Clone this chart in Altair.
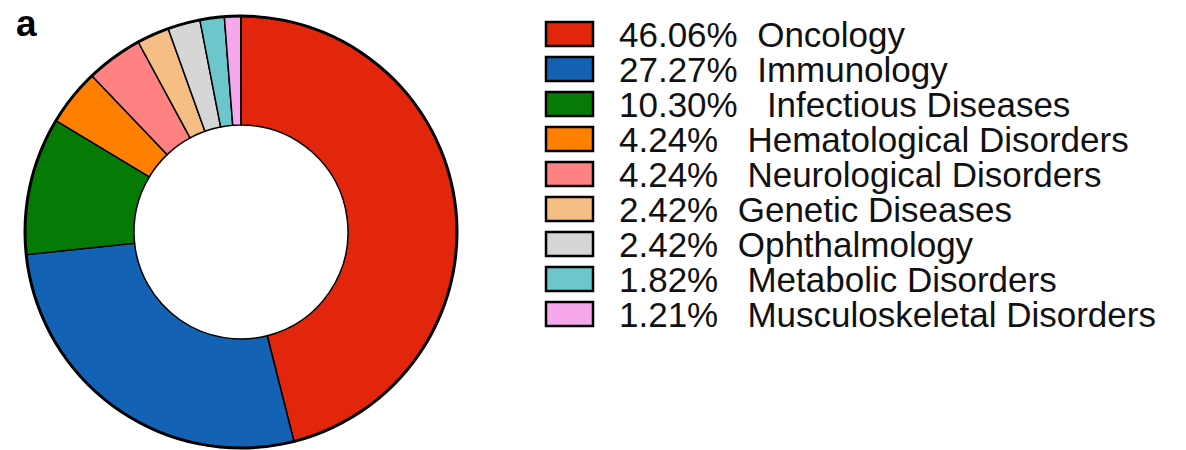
import altair as alt
import pandas as pd

# Therapeutic area shares (percent)
areas = [
    "Oncology", "Immunology", "Infectious Diseases", "Hematological Disorders",
    "Neurological Disorders", "Genetic Diseases", "Ophthalmology",
    "Metabolic Disorders", "Musculoskeletal Disorders",
]
shares = [46.06, 27.27, 10.30, 4.24, 4.24, 2.42, 2.42, 1.82, 1.21]
# number of spaces between the percentage and the area name in each legend line
gaps = [2, 2, 3, 3, 3, 2, 2, 3, 3]
colors = [
    "#E1260C", "#1462B4", "#057A05", "#FF7F00", "#FF8282",
    "#F4BE84", "#D6D6D6", "#6CC7CC", "#F6A8EC",
]

NB = "\u00a0"
labels = [f"{s:.2f}%{NB * g}{a}" for s, g, a in zip(shares, gaps, areas)]

df = pd.DataFrame({
    "area": areas,
    "share": shares,
    "idx": list(range(len(areas))),
    "label": labels,
})

CX, CY = 241, 232
color_scale = alt.Scale(domain=areas, range=colors)

donut = alt.Chart(df).mark_arc(
    radius=216, radius2=107, stroke="black", strokeWidth=1.5
).encode(
    x=alt.value(CX),
    y=alt.value(CY),
    theta=alt.Theta("share:Q", stack=True, scale=alt.Scale(domain=[0, 100])),
    order=alt.Order("idx:Q"),
    color=alt.Color("area:N", scale=color_scale, legend=None),
)

# Heavier outline around the outer edge
rim = alt.Chart(pd.DataFrame({"t": [100]})).mark_arc(
    radius=217.5, radius2=214.5, fill="black"
).encode(
    x=alt.value(CX),
    y=alt.value(CY),
    theta=alt.Theta("t:Q", scale=alt.Scale(domain=[0, 100])),
)

row_scale = alt.Scale(domain=[0, 8], range=[34, 314])

swatches = alt.Chart(df).mark_rect(
    height=24, stroke="black", strokeWidth=2.5
).encode(
    x=alt.value(546),
    x2=alt.value(593),
    y=alt.Y("idx:Q", scale=row_scale, axis=None),
    color=alt.Color("area:N", scale=color_scale, legend=None),
)

texts = alt.Chart(df).mark_text(
    align="left", baseline="alphabetic", dy=12.5, fontSize=35,
    font="Liberation Sans", color="#111111"
).encode(
    x=alt.value(619),
    y=alt.Y("idx:Q", scale=row_scale, axis=None),
    text="label:N",
)

panel = alt.Chart(pd.DataFrame({"t": ["a"]})).mark_text(
    align="left", baseline="alphabetic", fontSize=37, fontWeight="bold",
    font="Liberation Sans", color="black"
).encode(
    x=alt.value(16),
    y=alt.value(36),
    text="t:N",
)

chart = alt.layer(donut, rim, swatches, texts, panel).properties(
    width=1186, height=450, padding=0,
    autosize=alt.AutoSizeParams(type="none"),
).resolve_scale(theta="independent").configure_view(stroke=None)

chart.save("out.html", embed_options={"renderer": "svg", "actions": False})
